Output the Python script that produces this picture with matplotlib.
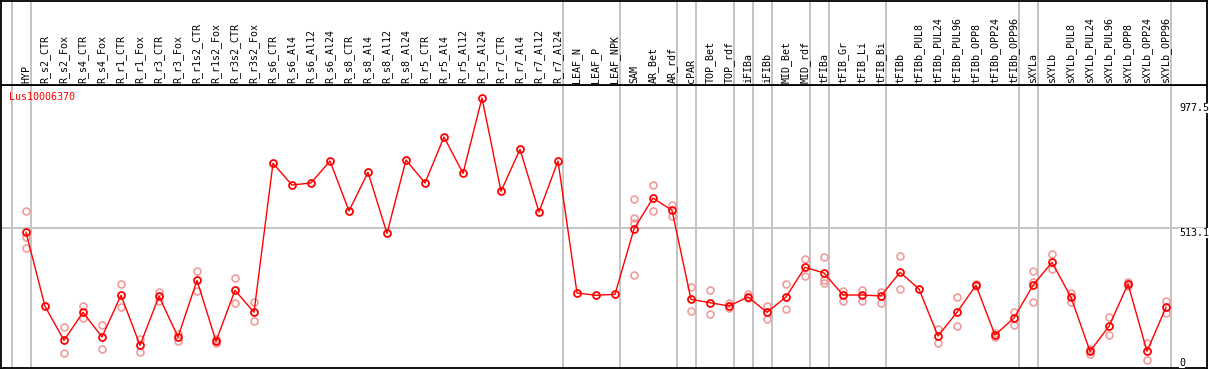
import matplotlib
matplotlib.use('Agg')
import matplotlib.pyplot as plt

# sample names, in plotting order
samples = ['HYP', 'R_s2_CTR', 'R_s2_Fox', 'R_s4_CTR', 'R_s4_Fox', 'R_r1_CTR',
           'R_r1_Fox', 'R_r3_CTR', 'R_r3_Fox', 'R_r1s2_CTR', 'R_r1s2_Fox',
           'R_r3s2_CTR', 'R_r3s2_Fox', 'R_s6_CTR', 'R_s6_Al4', 'R_s6_Al12',
           'R_s6_Al24', 'R_s8_CTR', 'R_s8_Al4', 'R_s8_Al12', 'R_s8_Al24',
           'R_r5_CTR', 'R_r5_Al4', 'R_r5_Al12', 'R_r5_Al24', 'R_r7_CTR',
           'R_r7_Al4', 'R_r7_Al12', 'R_r7_Al24', 'LEAF_N', 'LEAF_P', 'LEAF_NPK',
           'SAM', 'AR_Bet', 'AR_rdf', 'cPAR', 'TOP_Bet', 'TOP_rdf', 'iFIBa',
           'iFIBb', 'MID_Bet', 'MID_rdf', 'tFIBa', 'tFIB_Gr', 'tFIB_Li',
           'tFIB_Bi', 'tFIBb', 'tFIBb_PUL8', 'tFIBb_PUL24', 'tFIBb_PUL96',
           'tFIBb_OPP8', 'tFIBb_OPP24', 'tFIBb_OPP96', 'sXYLa', 'sXYLb',
           'sXYLb_PUL8', 'sXYLb_PUL24', 'sXYLb_PUL96', 'sXYLb_OPP8',
           'sXYLb_OPP24', 'sXYLb_OPP96']

# mean expression per sample
means = [497.0, 222.1, 95.8, 199.9, 108.1, 263.0, 77.3, 259.3, 108.1, 318.7,
         92.1, 281.6, 199.9, 753.3, 672.7, 680.2, 761.9, 576.2, 719.9, 493.3,
         765.6, 680.2, 851.0, 716.2, 995.9, 649.3, 805.3, 572.4, 761.9, 271.5,
         263.0, 266.7, 509.3, 624.4, 578.7, 248.1, 235.5, 223.3, 256.7, 199.9,
         256.7, 367.0, 345.8, 264.1, 264.1, 260.4, 348.4, 286.4, 111.8, 199.9,
         300.1, 115.5, 178.7, 300.1, 385.6, 255.6, 55.0, 147.8, 305.0, 55.0,
         218.4]

# replicate values per sample
reps = [[575.0, 480.7, 437.6], [], [144.1, 47.5], [223.3, 177.6],
        [151.6, 62.4], [303.9, 218.4], [101.8, 52.4], [275.3, 242.9],
        [119.2, 93.2], [353.3, 280.1], [99.6, 86.9], [327.3, 233.3],
        [238.1, 166.4], [], [], [], [], [], [], [], [], [], [], [], [], [],
        [], [], [], [], [], [], [619.6, 550.1, 531.6, 337.3], [671.6, 577.3],
        [598.4, 557.6], [293.8, 203.6], [282.7, 193.5], [233.3, 216.9],
        [266.7, 251.9], [223.3, 176.1], [303.9, 212.1], [397.8, 335.8],
        [404.2, 319.8, 309.8], [280.1, 241.8], [282.7, 241.8], [276.4, 235.5],
        [408.2, 285.7], [], [137.8, 86.9], [255.6, 149.0], [303.9, 296.4],
        [124.1, 107.0], [201.0, 152.7], [352.2, 313.5, 237.0], [415.3, 359.6],
        [270.4, 239.2], [62.4, 43.8], [182.4, 114.4], [313.5, 298.7],
        [84.7, 21.5], [241.8, 198.4]]

# last sample index of each tissue group (grey separators)
group_ends = [-1, 0, 28, 31, 34, 35, 37, 38, 39, 41, 42, 45, 52, 53, 60]
scale_labels = ['977.5', '513.1', '0']
scale_values = [977.5, 513.1, 0]
gene = 'Lus10006370'

W, H = 1209, 370
fig = plt.figure(figsize=(W / 100, H / 100), dpi=100)
ax = fig.add_axes([1 / W, 2 / H, 1206 / W, 283 / H])
axl = fig.add_axes([1 / W, 285 / H, 1206 / W, 84 / H], sharex=ax)

x = list(range(len(samples)))
grey = '#c4c4c4'
mono = 'DejaVu Sans Mono'

for a in (ax, axl):
    for g in group_ends:
        a.axvline(g + 0.247, color=grey, lw=1.4, zorder=0)
    for s in a.spines.values():
        s.set_linewidth(1.3)
        s.set_color('black')
    a.set_xticks([])
    a.set_yticks([])

ax.set_xlim((1 - 26) / 19, (1207 - 26) / 19)
ax.set_ylim(-7.06, 1044.2)
axl.set_ylim(0, 1)

ax.axhline(513.1, color=grey, lw=1.4, zorder=0)

# replicates, then the mean profile
for i, r in enumerate(reps):
    ax.plot([i] * len(r), r, 'o', ms=5, mfc='none', mec='#f29c9c', mew=1.2,
            zorder=2)
ax.plot(x, means, '-', color='red', lw=1.0, zorder=3)
ax.plot(x, means, 'o', ms=5, mfc='none', mec='red', mew=1.3, zorder=4)

# sample labels
for i, name in enumerate(samples):
    axl.text(i, 0.024, name, rotation=90, ha='center', va='bottom',
             family=mono, fontsize=7.2, color='black')

# scale labels on the right
xr = (1179 - 26) / 19
for lab, v in zip(scale_labels, scale_values):
    va = 'baseline' if v == 0 else 'top'
    ax.text(xr, v, lab, ha='left', va=va, family=mono, fontsize=7.2,
            color='black', bbox=dict(fc='white', ec='none', pad=0.3),
            zorder=5)

ax.annotate(gene, xy=(0, 1), xycoords='axes fraction', xytext=(6, -5),
            textcoords='offset points', ha='left', va='top', family=mono,
            fontsize=7.2, color='red')

fig.savefig('out.png', dpi=100)
